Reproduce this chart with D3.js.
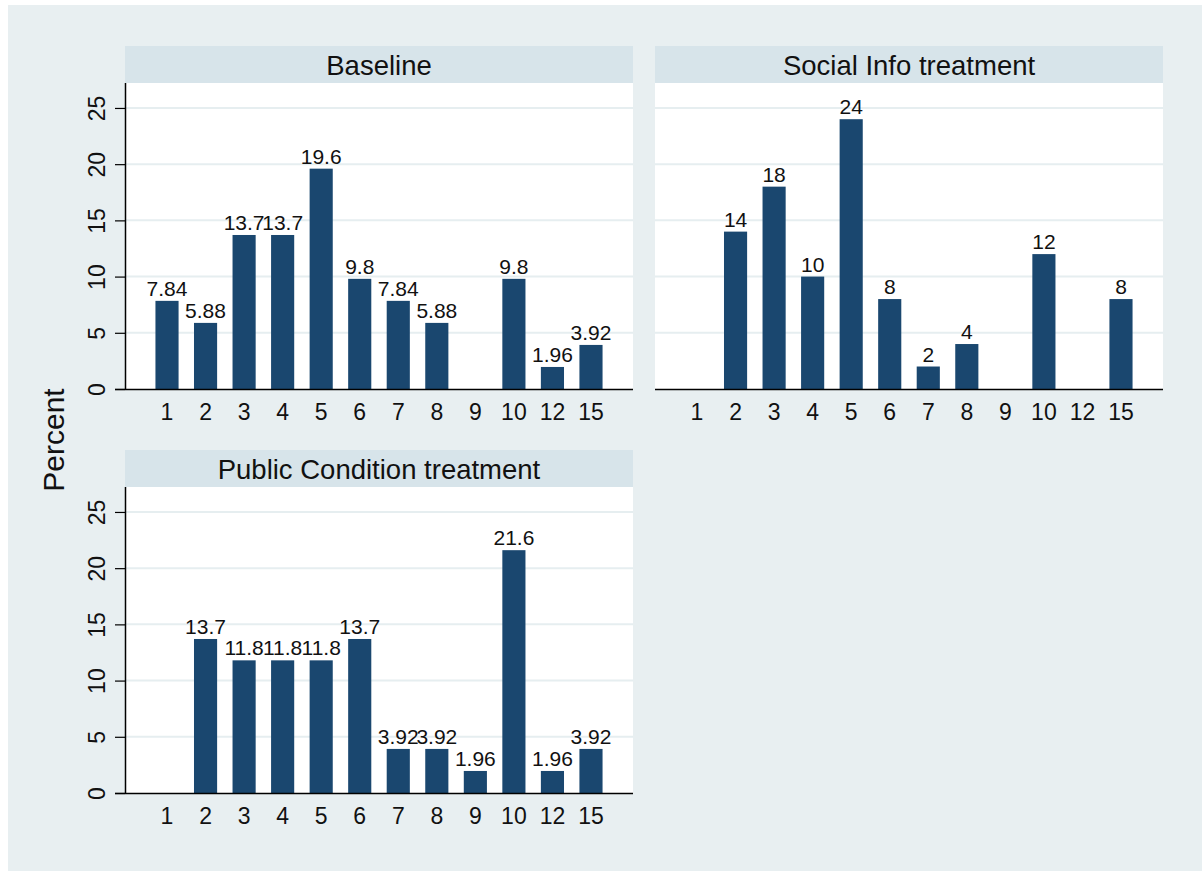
<!DOCTYPE html>
<html><head><meta charset="utf-8">
<script src="https://cdn.jsdelivr.net/npm/d3@7"></script>
<style>body{margin:0;background:#fff;}svg{display:block;font-family:"Liberation Sans",Arial,sans-serif;}</style>
</head><body>
<svg id="c" width="1202" height="871"></svg>
<script>
const categories = ["1","2","3","4","5","6","7","8","9","10","12","15"];
const baseline = [7.84,5.88,13.7,13.7,19.6,9.8,7.84,5.88,null,9.8,1.96,3.92];
const socialInfo = [null,14,18,10,24,8,2,4,null,12,null,8];
const publicCond = [null,13.7,11.8,11.8,11.8,13.7,3.92,3.92,1.96,21.6,1.96,3.92];
const yTicks = [0,5,10,15,20,25];
const panelTitles = ["Baseline","Social Info treatment","Public Condition treatment"];

const svg = d3.select("#c");
svg.append("rect").attr("x",8).attr("y",5).attr("width",1194).attr("height",866).attr("fill","#e8eff1");

const panels = [
  {title: panelTitles[0], data: baseline, x0:125, y0:46, yAxis:true},
  {title: panelTitles[1], data: socialInfo, x0:655, y0:46, yAxis:false},
  {title: panelTitles[2], data: publicCond, x0:125, y0:450, yAxis:true}
];
const W = 508, headH = 37, plotH = 306;

panels.forEach(p => {
  const g = svg.append("g").attr("transform",`translate(${p.x0},${p.y0})`);
  g.append("rect").attr("width",W).attr("height",headH).attr("fill","#d7e4ea");
  g.append("text").attr("x",W/2).attr("y",headH/2+10).attr("text-anchor","middle")
    .attr("font-size",27.5).attr("fill","#111").text(p.title);
  const pg = g.append("g").attr("transform",`translate(0,${headH})`);
  pg.append("rect").attr("width",W).attr("height",plotH).attr("fill","#fff");
  const x = d3.scaleBand().domain(categories).range([0,W]).paddingInner(0.4).paddingOuter(0.79);
  const y = d3.scaleLinear().domain([0,27.22]).range([plotH,0]);
  pg.selectAll("line.grid").data(yTicks.filter(t=>t>0)).join("line")
    .attr("x1",0).attr("x2",W).attr("y1",d=>y(d)).attr("y2",d=>y(d))
    .attr("stroke","#e6eef0").attr("stroke-width",2);
  const vals = categories.map((c,i)=>({c, v:p.data[i]})).filter(d=>d.v!==null);
  pg.selectAll("rect.bar").data(vals).join("rect")
    .attr("x",d=>x(d.c)).attr("width",x.bandwidth())
    .attr("y",d=>y(d.v)).attr("height",d=>plotH-y(d.v)).attr("fill","#1a476f");
  pg.selectAll("text.lab").data(vals).join("text")
    .attr("x",d=>x(d.c)+x.bandwidth()/2).attr("y",d=>y(d.v)-5)
    .attr("text-anchor","middle").attr("font-size",21).attr("fill","#111").text(d=>d.v);
  const xa = pg.append("g").attr("transform",`translate(0,${plotH})`)
    .call(d3.axisBottom(x).tickSize(0).tickPadding(15));
  xa.select(".domain").attr("d",`M${p.yAxis?-10:0},0.5H${W}`).attr("stroke","#000").attr("stroke-width",1.5);
  xa.selectAll("text").attr("font-size",23).attr("fill","#111").attr("font-family","Liberation Sans, Arial, sans-serif");
  if (p.yAxis) {
    const ya = pg.append("g").call(d3.axisLeft(y).tickValues(yTicks).tickSize(10).tickPadding(6));
    ya.select(".domain").attr("d",`M0.5,${plotH}V0`).attr("stroke","#000").attr("stroke-width",1.5);
    ya.selectAll(".tick line").attr("stroke","#000").attr("stroke-width",1.2);
    ya.selectAll("text").attr("font-size",23).attr("fill","#111")
      .attr("font-family","Liberation Sans, Arial, sans-serif")
      .attr("transform","rotate(-90)").attr("text-anchor","middle")
      .attr("x",0).attr("dy",0).attr("y",-20);
  }
});
svg.append("text").attr("transform","translate(64,440) rotate(-90)").attr("text-anchor","middle")
  .attr("font-size",30).attr("fill","#111").text("Percent");
</script>
</body></html>
